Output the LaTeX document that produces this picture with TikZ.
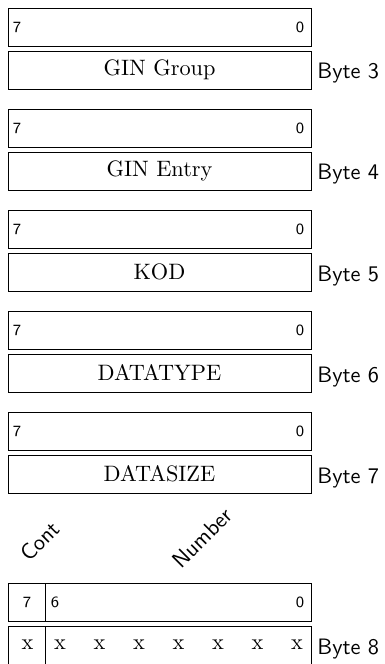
\documentclass[tikz,border=0pt]{standalone}
\usetikzlibrary{positioning}
\begin{document}
\begin{tikzpicture}[x=0.4484pt, y=-0.4484pt,
  cell/.style={draw, inner sep=0pt, outer sep=0pt, minimum height=17.04pt},
  wide/.style={cell, minimum width=135.87pt},
  narrow/.style={cell, minimum width=16.59pt},
  rest/.style={cell, minimum width=119.27pt},
  fieldtxt/.style={font=\rmfamily},
  bitnum/.style={font=\sffamily\scriptsize, inner sep=0pt},
  bytelbl/.style={font=\sffamily, anchor=base west, inner sep=0pt},
  rotlbl/.style={font=\sffamily, rotate=45, anchor=base west, inner sep=0pt},
  bitx/.style={font=\rmfamily, inner sep=0pt}]
\useasboundingbox (0,0) rectangle (384,664);

% five plain one-byte fields: bit header above, field box below
\foreach \k/\name/\byte in {0/GIN Group/3, 1/GIN Entry/4, 2/KOD/5, 3/DATATYPE/6, 4/DATASIZE/7} {
  \node[wide] (hdr\byte) at (159.5, 27+101*\k) {};
  \node[bitnum] (hi\byte) at (17, 27+101*\k) {7};
  \node[bitnum] (lo\byte) at (300, 27+101*\k) {0};
  \node[wide, fieldtxt] (fld\byte) at (159.5, 70+101*\k) {\name};
  \node[bytelbl] (lbl\byte) at (317, 79+101*\k) {Byte \byte};
}

% byte 8: continuation bit plus seven-bit number
\node[narrow] (h8a) at (26.5, 602) {};
\node[rest] (h8b) at (178, 602) {};
\node[bitnum] (b7) at (27, 602) {7};
\node[bitnum] (b6) at (55, 602) {6};
\node[bitnum] (b0) at (300, 602) {0};

\node[narrow] (f8a) at (26.5, 645) {};
\node[rest] (f8b) at (178, 645) {};
\node[bitx] (x7) at (27.5, 645) {x};
\foreach \i in {0,...,6} {
  \node[bitx] (x\i) at (60+39.5*\i, 645) {x};
}
\node[bytelbl] (lbl8) at (317, 654) {Byte 8};

\node[rotlbl] (cont) at (29, 563) {Cont};
\node[rotlbl] (number) at (181, 570) {Number};
\end{tikzpicture}
\end{document}
